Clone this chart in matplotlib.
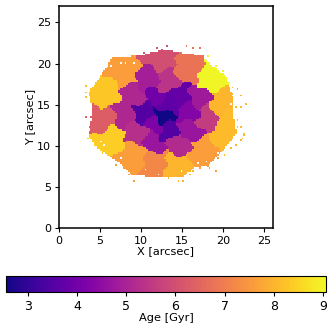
import matplotlib
matplotlib.use('Agg')
import matplotlib.pyplot as plt
from matplotlib.path import Path
import numpy as np

# voronoi bin centres [arcsec] and their ages [Gyr]
bin_x = [12.6, 10.3, 11.8, 10.9, 9.1, 8.1, 9.6, 11.8, 13.2, 13.2, 13.2, 12.2, 7.9, 5.7,
         5.5, 6.3, 9.0, 11.8, 14.2, 17.6, 20.0, 11.5, 14.5, 15.8, 17.9, 15.8, 14.8,
         17.0, 19.7, 18.2, 15.7, 21.0]
bin_y = [13.5, 14.0, 16.0, 18.0, 16.0, 13.7, 11.7, 12.8, 11.7, 15.0, 17.6, 20.7, 19.0, 16.4,
         13.1, 10.9, 8.9, 7.9, 7.4, 9.2, 11.3, 10.5, 10.3, 11.9, 13.4, 14.1, 16.0,
         16.0, 15.0, 18.0, 19.2, 13.0]
bin_age = [2.6, 3.5, 4.0, 4.9, 5.1, 5.1, 5.3, 4.2, 3.5, 3.7, 5.4, 6.0, 7.6, 8.3,
           6.3, 8.4, 7.6, 7.2, 8.0, 7.6, 8.1, 4.7, 5.2, 4.7, 5.6, 4.3, 3.8,
           4.8, 8.0, 9.0, 6.8, 8.1]

# outline of the detected region
edge_x = [21.2, 21.1, 20.3, 18.2, 17.2, 15.0, 12.7, 10.0, 6.3, 5.9, 3.6, 4.1, 3.6, 4.7,
          7.2, 9.0, 13.2, 15.0, 16.4, 18.2, 19.7, 21.6]
edge_y = [13.7, 15.9, 18.4, 20.1, 21.0, 21.3, 21.7, 21.0, 20.7, 19.6, 16.5, 14.4, 11.1, 9.7,
          8.0, 6.4, 6.1, 6.1, 7.3, 7.7, 9.1, 11.5]

# single spaxels outside the outline
stray_x = [3.3, 3.3, 3.2, 5.3, 5.5, 5.1, 4.7, 4.2, 3.2, 3.9, 4.1, 3.9, 3.6, 10.3, 11.2, 11.8,
           12.6, 13.2, 15.4, 16.4, 17.0, 15.7, 16.4, 17.5, 18.1, 18.4, 19.1, 19.9, 20.6,
           21.1, 21.7, 21.2, 22.1, 21.5, 22.1, 22.7, 20.9, 21.7, 22.1, 22.5, 22.3, 3.6,
           4.1, 3.5, 4.2, 4.9, 5.5, 5.3, 6.3, 6.7, 6.9, 7.9, 8.4, 8.5, 9.0, 9.7, 10.3,
           11.2, 12.4, 13.3, 13.3, 14.4, 15.2, 15.8, 16.4, 17.2, 18.1, 19.1, 18.4, 19.3,
           20.0, 20.9, 21.5, 22.1, 22.5, 21.7]
stray_y = [17.4, 16.5, 15.9, 18.9, 19.2, 18.4, 17.8, 17.4, 13.4, 13.5, 12.8, 11.9, 11.1, 21.3, 21.4, 21.9,
           21.7, 22.0, 22.1, 21.9, 21.9, 21.0, 21.0, 20.8, 20.8, 20.1, 19.6, 19.0, 17.6,
           17.2, 16.8, 16.4, 16.2, 14.7, 14.6, 15.0, 14.4, 13.1, 12.3, 11.6, 10.9, 12.3,
           11.6, 10.9, 10.1, 10.3, 9.7, 9.2, 9.1, 8.5, 7.7, 7.3, 8.0, 6.4, 5.8, 6.7, 6.4,
           6.4, 6.2, 6.4, 6.1, 5.8, 5.8, 6.4, 6.8, 7.3, 7.4, 6.8, 7.3, 8.5,
           8.9, 9.7, 10.1, 10.7, 11.3, 12.3]

# empty spaxels just inside the outline
hole_x = [7.5, 8.1, 6.3, 9.0, 19.1, 19.4, 5.0, 5.6, 17.9, 16.8, 10.6, 14.8, 12.0, 7.6, 20.4, 20.8]
hole_y = [20.2, 20.2, 19.6, 20.2, 8.6, 9.1, 10.6, 10.0, 8.0, 7.8, 7.0, 6.8, 6.6, 8.6, 9.8, 15.2]

# spaxel grid
step = 0.2
xs = np.arange(0, 26, step) + step / 2
ys = np.arange(0, 27, step) + step / 2
gx, gy = np.meshgrid(xs, ys)

# each spaxel gets the age of its nearest bin centre, wobble keeps the bin edges from being straight
wx = gx + 0.3 * np.sin(gy * 3.1)
wy = gy + 0.3 * np.sin(gx * 2.7)
bx = np.array(bin_x)
by = np.array(bin_y)
dist = (wx[..., None] - bx) ** 2 + (wy[..., None] - by) ** 2
age_map = np.array(bin_age)[dist.argmin(axis=2)]

# blank everything outside the outline
outline = Path(np.column_stack([edge_x, edge_y]))
inside = outline.contains_points(np.column_stack([gx.ravel(), gy.ravel()])).reshape(gx.shape)
for sx, sy in zip(stray_x, stray_y):
    inside[int(sy / step), int(sx / step)] = True
for hx, hy in zip(hole_x, hole_y):
    inside[int(hy / step), int(hx / step)] = False
age_map = np.ma.masked_where(~inside, age_map)

fig = plt.figure(figsize=(3.33, 3.31), dpi=100)
ax = fig.add_axes([58.5 / 333, 1 - 228 / 331, 214 / 333, 222 / 331])
im = ax.imshow(age_map, origin='lower', extent=[0, 26, 0, 27], cmap='plasma',
               vmin=2.56, vmax=9.06, aspect='auto', interpolation='nearest')
ax.set_xlim(0, 26)
ax.set_ylim(0, 27)
ax.set_xticks([0, 5, 10, 15, 20, 25])
ax.set_yticks([0, 5, 10, 15, 20, 25])
ax.tick_params(labelsize=8, length=3, pad=2.5)
ax.set_xlabel('X [arcsec]', fontsize=8.2, labelpad=0)
ax.set_ylabel('Y [arcsec]', fontsize=8.2, labelpad=1)
for s in ax.spines.values():
    s.set_linewidth(1.1)

# horizontal colorbar
cax = fig.add_axes([6 / 333, 1 - 292 / 331, 320 / 333, 16 / 331])
cb = fig.colorbar(im, cax=cax, orientation='horizontal')
cb.set_ticks([3, 4, 5, 6, 7, 8, 9])
cb.ax.tick_params(labelsize=9, length=3, pad=2.5)
cb.set_label('Age [Gyr]', fontsize=8.2, labelpad=0)

fig.savefig('out.png', dpi=100)
